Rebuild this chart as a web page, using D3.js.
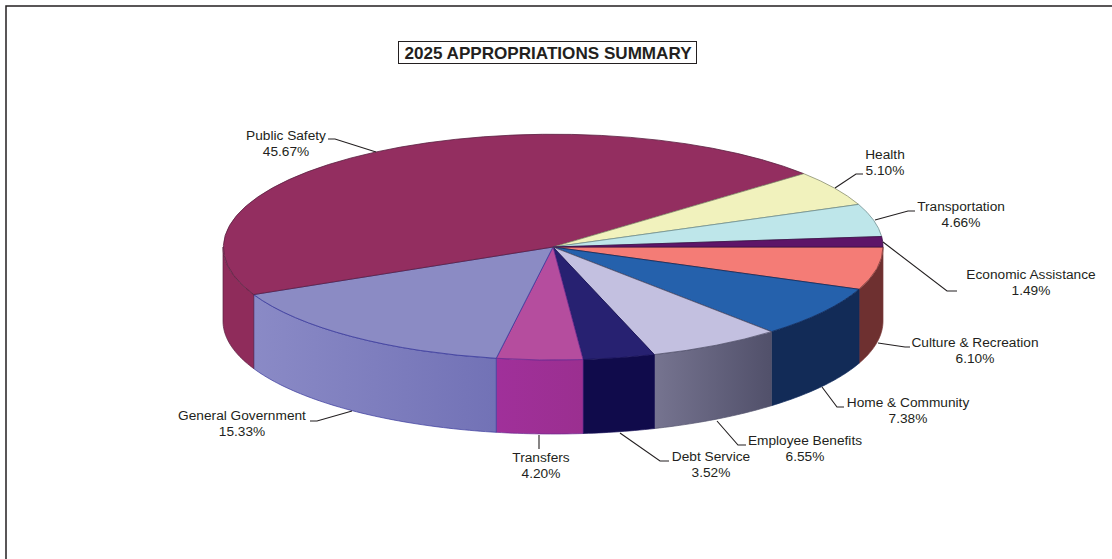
<!DOCTYPE html>
<html><head><meta charset="utf-8">
<script src="https://cdn.jsdelivr.net/npm/d3@7/dist/d3.min.js"></script>
<style>html,body{margin:0;padding:0;background:#fff}svg{display:block}text{font-family:"Liberation Sans",Arial,sans-serif;fill:#231f20}</style>
</head><body><svg id="c" width="1112" height="559"></svg>
<script>
const title = "2025 APPROPRIATIONS SUMMARY";
const categories = ["Culture & Recreation","Home & Community","Employee Benefits","Debt Service","Transfers","General Government","Public Safety","Health","Transportation","Economic Assistance"];
const values = [6.10,7.38,6.55,3.52,4.20,15.33,45.67,5.10,4.66,1.49];
const topColors = ["#f47c76","#2561ac","#c3c0e0","#272171","#b54d9e","#8b8bc4","#932e60","#f1f2bd","#bee6ea","#5e1568"];
const wallStart = ["#6e3030","#122b57","#767490","#100b4b","#a0309a","#8a8ac6","#8f2c5b","#f1f2bd","#bee6ea","#5e1568"];
const wallEnd = ["#6e3030","#122b57","#51506a","#100b4b","#9b2f90","#7272b6","#8f2c5b","#f1f2bd","#bee6ea","#5e1568"];
const edgeColors = ["#7d3b3a","#0f2a5c","#55546e","#150f55","#6b2a90","#3a3a9c","#5a2040","#8a8f70","#6f8f90","#3c0f48"];

const cx=553, cy=247, rx=330, ry=113, depth=74;
const svg=d3.select("#c");
const defs=svg.append("defs");

// frame
svg.append("path").attr("d","M6 559V6H1112").attr("fill","none").attr("stroke","#231f20").attr("stroke-width",1.5);

// title
svg.append("rect").attr("x",398.5).attr("y",41.5).attr("width",298).attr("height",22).attr("fill","#fff").attr("stroke","#231f20");
svg.append("text").attr("x",548).attr("y",58.5).attr("text-anchor","middle").attr("font-weight","bold").attr("font-size",17.1).text(title);

const pie=d3.pie().sort(null).value(d=>d).startAngle(Math.PI/2).endAngle(Math.PI/2+2*Math.PI);
const arcs=pie(values);
const arcGen=d3.arc().innerRadius(0).outerRadius(1);

// project a d3 angle (0 = 12 o'clock, clockwise) on the tilted rim
const px=a=>cx+rx*Math.sin(a), py=a=>cy-ry*Math.cos(a);
const wallPath=(a0,a1)=>{
  const n=Math.max(2,Math.ceil((a1-a0)*60));
  const angs=d3.range(n+1).map(i=>a0+(a1-a0)*i/n);
  const line=d3.line();
  const top=angs.map(a=>[px(a),py(a)]);
  const bot=angs.slice().reverse().map(a=>[px(a),py(a)+depth]);
  return line(top.concat(bot))+"Z";
};

// walls: visible only on the front half of the rim (lower half of the ellipse)
const frontA=Math.PI/2, frontB=3*Math.PI/2;
const walls=svg.append("g");
arcs.forEach((d,i)=>{
  const a0=Math.max(d.startAngle,frontA), a1=Math.min(d.endAngle,frontB);
  if(a1<=a0) return;
  const id="w"+i;
  const g=defs.append("linearGradient").attr("id",id).attr("gradientUnits","userSpaceOnUse")
    .attr("x1",Math.min(px(a0),px(a1))).attr("x2",Math.max(px(a0),px(a1))).attr("y1",0).attr("y2",0);
  g.append("stop").attr("offset",0).attr("stop-color",wallStart[i]);
  g.append("stop").attr("offset",1).attr("stop-color",wallEnd[i]);
  walls.append("path").attr("d",wallPath(a0,a1)).attr("fill",`url(#${id})`)
    .attr("stroke",edgeColors[i]).attr("stroke-width",0.7);
});

// top surface
const topG=svg.append("g").attr("transform",`translate(${cx},${cy}) scale(${rx},${ry})`);
topG.selectAll("path").data(arcs).join("path")
  .attr("d",arcGen).attr("fill",(d,i)=>topColors[i])
  .attr("stroke",(d,i)=>edgeColors[i]).attr("stroke-width",0.8)
  .attr("vector-effect","non-scaling-stroke");

// labels and leaders
const labelLayout=[
 {x:975,y:347,line:[[878,343],[905,347],[910,347]]},
 {x:908,y:407,line:[[822,387],[837,407],[844,407]]},
 {x:805,y:445,line:[[717,421],[738,445],[746,445]]},
 {x:711,y:461,line:[[620,433],[660,461],[669,461]]},
 {x:541,y:462,line:[[539,435],[539,449]]},
 {x:242,y:420,line:[[352,411],[317,421],[310,421]]},
 {x:286,y:140,line:[[376,152],[335,139],[328,139]]},
 {x:885,y:159,line:[[835,188],[856,174],[863,174]]},
 {x:961,y:211,line:[[875,220],[908,211],[915,211]]},
 {x:1031,y:279,line:[[883,242],[947,291],[957,291]]}
];
const fmt=d3.format(".2f");
const leaders=svg.append("g");
const labels=svg.append("g").attr("font-size",13.7).attr("text-anchor","middle");
categories.forEach((c,i)=>{
  const l=labelLayout[i];
  leaders.append("path").attr("d",d3.line()(l.line)).attr("fill","none").attr("stroke","#231f20").attr("stroke-width",1.1);
  const t=labels.append("text").attr("x",l.x).attr("y",l.y);
  t.append("tspan").attr("x",l.x).text(c);
  t.append("tspan").attr("x",l.x).attr("dy",15.7).text(fmt(values[i])+"%");
});
</script></body></html>
